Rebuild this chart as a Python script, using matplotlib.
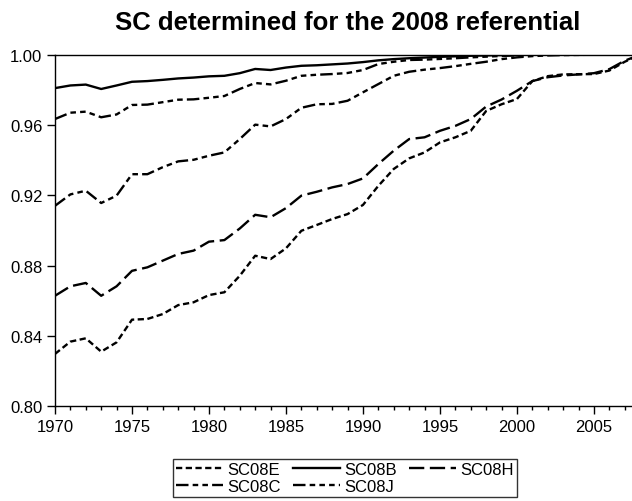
import matplotlib
matplotlib.use("Agg")
import matplotlib.pyplot as plt
from matplotlib.ticker import MultipleLocator, FormatStrFormatter

plt.rcParams['font.family'] = ['Liberation Sans', 'DejaVu Sans']
plt.rcParams['lines.scale_dashes'] = False

years = list(range(1970, 2009))

sc08b = [0.981, 0.9825, 0.983, 0.9805, 0.9825, 0.9846, 0.985, 0.9857, 0.9865, 0.987,
         0.9877, 0.988, 0.9895, 0.9919, 0.9913, 0.9927, 0.9937, 0.994, 0.9945, 0.995,
         0.9958, 0.9968, 0.9975, 0.998, 0.9984, 0.9988, 0.9991, 0.9994, 0.9996, 0.9998,
         0.9999, 1.0, 1.0, 1.0, 1.0, 1.0, 1.0, 1.0, 1.0]
sc08j = [0.9634, 0.967, 0.9676, 0.9644, 0.966, 0.9714, 0.9716, 0.973, 0.9744, 0.9746,
         0.9755, 0.9765, 0.9805, 0.9839, 0.9831, 0.9852, 0.988, 0.9886, 0.989, 0.9896,
         0.9913, 0.9947, 0.996, 0.997, 0.9972, 0.9976, 0.998, 0.9985, 0.9989, 0.9993,
         0.9996, 0.9998, 0.9999, 1.0, 1.0, 1.0, 1.0, 1.0, 1.0]
sc08c = [0.914, 0.9205, 0.9226, 0.9156, 0.9198, 0.932, 0.932, 0.936, 0.9393, 0.9402,
         0.9425, 0.9444, 0.952, 0.9602, 0.9592, 0.9634, 0.9698, 0.9718, 0.972, 0.9738,
         0.9786, 0.9833, 0.988, 0.9903, 0.9915, 0.9924, 0.9935, 0.9948, 0.996, 0.9975,
         0.9985, 0.9992, 0.9996, 0.9998, 0.9999, 1.0, 1.0, 1.0, 1.0]
sc08h = [0.8628, 0.8682, 0.8701, 0.8628, 0.8682, 0.877, 0.879, 0.8828, 0.8866, 0.8885,
         0.8936, 0.8945, 0.9011, 0.9089, 0.9075, 0.9127, 0.9198, 0.922, 0.9245, 0.9264,
         0.9296, 0.9378, 0.9454, 0.952, 0.953, 0.9567, 0.9595, 0.9634, 0.9705, 0.9745,
         0.9795, 0.985, 0.9872, 0.9882, 0.9888, 0.9895, 0.9918, 0.9966, 1.0]
sc08e = [0.8297, 0.8367, 0.8386, 0.831, 0.8363, 0.8492, 0.8496, 0.8524, 0.8575, 0.8591,
         0.8632, 0.8648, 0.8742, 0.8856, 0.8837, 0.8898, 0.8998, 0.9031, 0.9065, 0.9093,
         0.9145, 0.9254, 0.935, 0.941, 0.9444, 0.9501, 0.953, 0.9567, 0.968, 0.9718,
         0.9748, 0.985, 0.9878, 0.9888, 0.9889, 0.989, 0.991, 0.996, 1.0]

series = [
    ("SC08E", sc08e, (0, (4.5, 2.5))),
    ("SC08C", sc08c, (0, (9, 3, 4, 3, 4, 3))),
    ("SC08B", sc08b, "-"),
    ("SC08J", sc08j, (0, (9, 3, 4, 3, 4, 3, 4, 3))),
    ("SC08H", sc08h, (0, (11, 4))),
]

fig = plt.figure(figsize=(6.32, 5.02), dpi=100)
ax = fig.add_axes([0.087, 0.189, 0.913, 0.700])

for name, vals, ls in series:
    ax.plot(years, vals, color="black", lw=1.7, linestyle=ls, label=name)

ax.set_xlim(1970, 2007.47)
ax.set_ylim(0.80, 1.00)
ax.xaxis.set_major_locator(MultipleLocator(5))
ax.xaxis.set_minor_locator(MultipleLocator(1))
ax.yaxis.set_major_locator(MultipleLocator(0.04))
ax.yaxis.set_major_formatter(FormatStrFormatter("%.2f"))
ax.tick_params(axis="both", which="major", direction="out", length=6,
               width=1, labelsize=12, colors="black", pad=3)
ax.tick_params(axis="x", which="minor", direction="out", length=3, width=1)
ax.spines["right"].set_visible(False)
for side in ("left", "bottom", "top"):
    ax.spines[side].set_linewidth(1)

fig.suptitle("SC determined for the 2008 referential", fontsize=18.5,
             fontweight="bold", x=0.55, y=0.978)

fig.legend(loc="center", bbox_to_anchor=(0.546, 0.046), ncol=3,
           fontsize=12, frameon=True, fancybox=False, edgecolor="black",
           handlelength=2.8, columnspacing=0.7, handletextpad=0.3,
           borderpad=0.2, labelspacing=0.1, borderaxespad=0)

fig.savefig("out.png", dpi=100)
